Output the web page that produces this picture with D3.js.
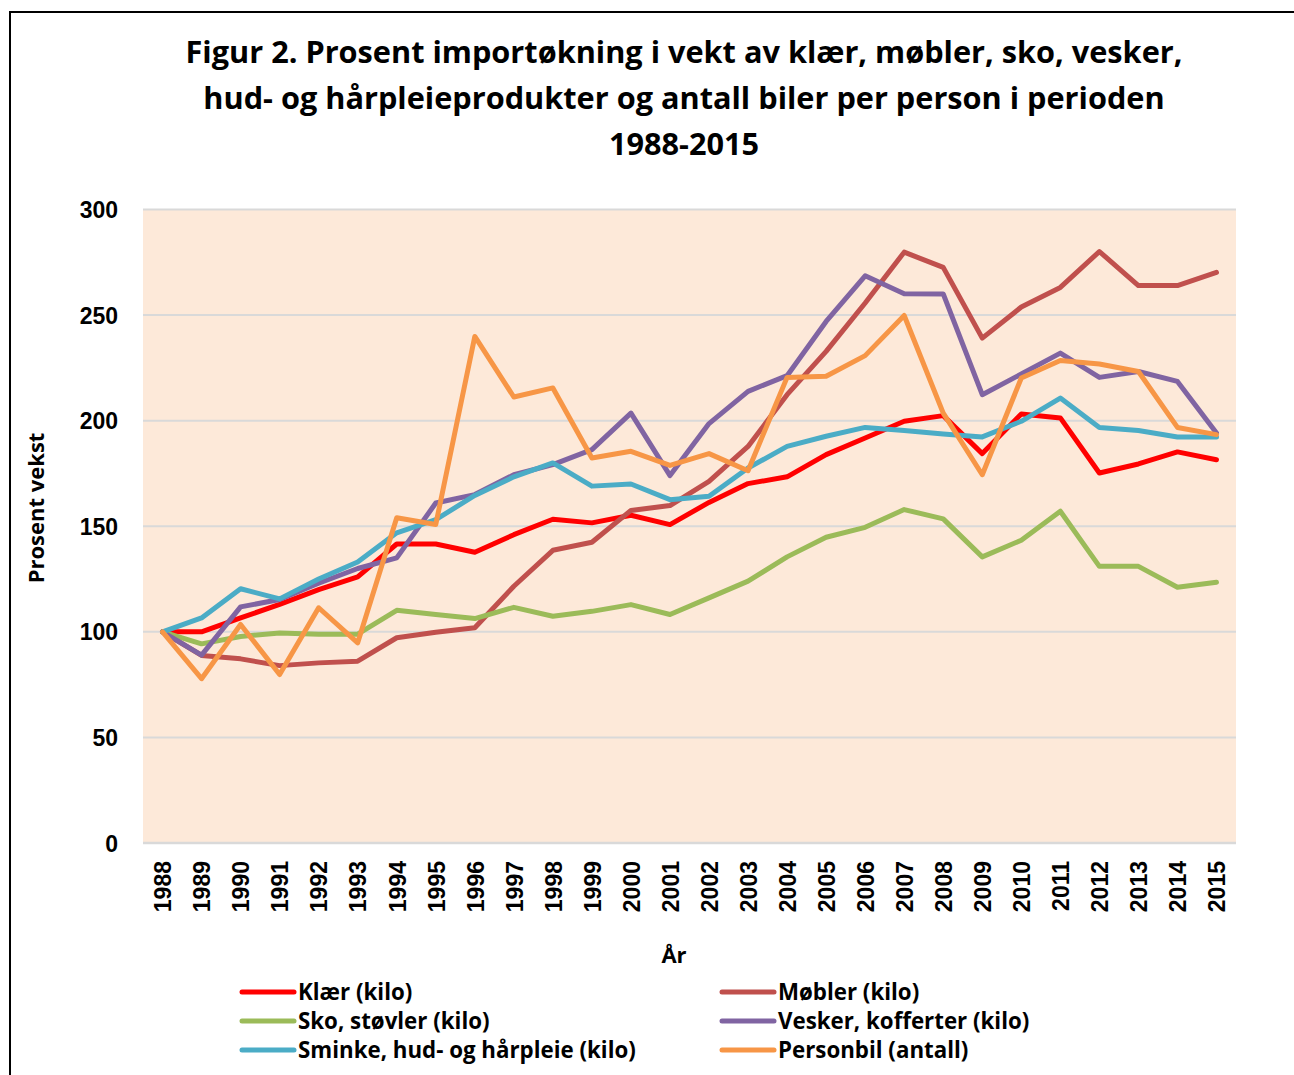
<!DOCTYPE html>
<html>
<head>
<meta charset="utf-8">
<script src="https://cdn.jsdelivr.net/npm/d3@7"></script>
<style>
  body { margin: 0; background: #fff; }
  svg text { fill: #000; }
</style>
</head>
<body>
<svg id="chart" width="1294" height="1075"></svg>
<script>
// data
let aar = d3.range(1988, 2016).map(String);
let klaer    = [100, 100, 106.6, 113, 120, 126, 141.6, 141.6, 137.7, 146, 153.3, 151.6, 155.2, 150.8, 161.3, 170.2, 173.4, 183.9, 191.8, 199.7, 202.4, 184.4, 203.2, 201.3, 175.2, 179.5, 185.2, 181.5];
let mobler   = [100, 88.8, 87.2, 84, 85.3, 86.1, 97.2, 99.8, 101.9, 121.6, 138.6, 142.4, 157.5, 159.8, 171.3, 187.8, 212.3, 232.8, 255.7, 279.8, 272.6, 239.1, 253.8, 263.1, 280.1, 264, 264, 270.2];
let sko      = [100, 94.3, 97.8, 99.5, 98.9, 98.9, 110.2, 108.2, 106.3, 111.6, 107.4, 109.7, 112.9, 108.2, 116.1, 124, 135.5, 144.8, 149.5, 157.9, 153.5, 135.5, 143.4, 157.1, 131, 131, 121.1, 123.5];
let vesker   = [100, 89, 111.8, 115.3, 123, 130, 135, 161, 165, 174.4, 179.2, 186.3, 203.6, 174, 198.6, 213.9, 221.3, 247, 268.6, 260.1, 260, 212.3, 222.1, 232, 220.5, 223.3, 218.6, 194.2];
let sminke   = [100, 106.6, 120.4, 115.6, 125, 133.1, 146.9, 153.1, 164.6, 173.4, 180, 169, 170, 162.6, 164.2, 177.6, 187.8, 192.6, 196.8, 195.3, 193.7, 192.3, 199.7, 210.7, 196.8, 195.3, 192.3, 192.3];
let personbil = [100, 77.8, 103.5, 79.8, 111.4, 94.8, 154, 150.8, 239.9, 211.2, 215.5, 182.3, 185.5, 178.8, 184.4, 176.3, 220.5, 221, 230.8, 249.8, 203.6, 174.4, 220.2, 228.5, 226.8, 223.3, 196.8, 193.4];

let serieNavn = ["Klær (kilo)", "Møbler (kilo)", "Sko, støvler (kilo)", "Vesker, kofferter (kilo)", "Sminke, hud- og hårpleie (kilo)", "Personbil (antall)"];
let serieVerdier = [klaer, mobler, sko, vesker, sminke, personbil];
let farger = ["#ff0000", "#c0504d", "#9bbb59", "#8064a2", "#4bacc6", "#f79646"];
let yTicks = [0, 50, 100, 150, 200, 250, 300];

let tittel = ["Figur 2. Prosent importøkning i vekt av klær, møbler, sko, vesker,",
              "hud- og hårpleieprodukter og antall biler per person i perioden",
              "1988-2015"];

let svg = d3.select("#chart");
let fontTekst = "'Open Sans', Lato, sans-serif";
let fontTall = "'Liberation Sans', Arial, sans-serif";

// ramme rundt hele figuren
svg.append("rect")
    .attr("x", 10).attr("y", 12)
    .attr("width", 1300).attr("height", 1100)
    .attr("fill", "none")
    .attr("stroke", "#000")
    .attr("stroke-width", 2);

// tittel
svg.append("g").selectAll("text")
    .data(tittel)
    .join("text")
    .attr("x", 684)
    .attr("y", (d, i) => 63 + i * 46)
    .attr("text-anchor", "middle")
    .attr("font-family", fontTekst)
    .attr("font-weight", "bold")
    .attr("font-size", "30.7px")
    .text(d => d);

let plot = { left: 143, right: 1236, top: 209.5, bottom: 843 };

let x = d3.scalePoint().domain(aar).range([plot.left, plot.right]).padding(0.5);
let y = d3.scaleLinear().domain([0, 300]).range([plot.bottom, plot.top]);

// bakgrunn for plotteområdet
svg.append("rect")
    .attr("x", plot.left).attr("y", plot.top)
    .attr("width", plot.right - plot.left)
    .attr("height", plot.bottom - plot.top)
    .attr("fill", "#fde9d9");

// rutenett
svg.append("g").selectAll("line")
    .data(yTicks)
    .join("line")
    .attr("x1", plot.left).attr("x2", plot.right)
    .attr("y1", d => y(d)).attr("y2", d => y(d))
    .attr("stroke", "#d9d9d9")
    .attr("stroke-width", d => d == 0 ? 2.5 : 2);

// y-akse
let yAkse = svg.append("g")
    .attr("transform", `translate(${plot.left},0)`)
    .call(d3.axisLeft(y).tickValues(yTicks).tickSize(0).tickPadding(25));
yAkse.select(".domain").remove();
yAkse.selectAll("text")
    .attr("font-family", fontTall)
    .attr("font-weight", "bold")
    .attr("font-size", "23px")
    .attr("dy", "0.35em");

// x-akse med loddrette årstall
let xAkse = svg.append("g")
    .attr("transform", `translate(0,${plot.bottom})`)
    .call(d3.axisBottom(x).tickSize(0));
xAkse.select(".domain").remove();
xAkse.selectAll("text")
    .attr("font-family", fontTall)
    .attr("font-weight", "bold")
    .attr("font-size", "23px")
    .attr("text-anchor", "end")
    .attr("transform", "rotate(-90)")
    .attr("x", -18)
    .attr("y", 0)
    .attr("dy", "0.36em");

// aksetitler
svg.append("text")
    .attr("transform", "translate(44,508) rotate(-90)")
    .attr("text-anchor", "middle")
    .attr("font-family", fontTekst)
    .attr("font-weight", "bold")
    .attr("font-size", "22px")
    .text("Prosent vekst");

svg.append("text")
    .attr("x", 674).attr("y", 963)
    .attr("text-anchor", "middle")
    .attr("font-family", fontTekst)
    .attr("font-weight", "bold")
    .attr("font-size", "22px")
    .text("År");

// linjene
let linje = d3.line()
    .x((d, i) => x(aar[i]))
    .y(d => y(d));

svg.append("g").selectAll("path")
    .data(serieVerdier)
    .join("path")
    .attr("d", d => linje(d))
    .attr("fill", "none")
    .attr("stroke", (d, i) => farger[i])
    .attr("stroke-width", 5)
    .attr("stroke-linejoin", "round")
    .attr("stroke-linecap", "round");

// forklaring, to kolonner
let forklaring = svg.append("g")
    .selectAll("g")
    .data(serieNavn)
    .join("g")
    .attr("transform", (d, i) => `translate(${i % 2 == 0 ? 242 : 722},${992 + Math.floor(i / 2) * 29})`);

forklaring.append("line")
    .attr("x1", 0).attr("x2", 52)
    .attr("stroke", (d, i) => farger[i])
    .attr("stroke-width", 5)
    .attr("stroke-linecap", "round");

forklaring.append("text")
    .attr("x", 56)
    .attr("dy", "0.35em")
    .attr("font-family", fontTekst)
    .attr("font-weight", "bold")
    .attr("font-size", "22.3px")
    .text(d => d);
</script>
</body>
</html>
